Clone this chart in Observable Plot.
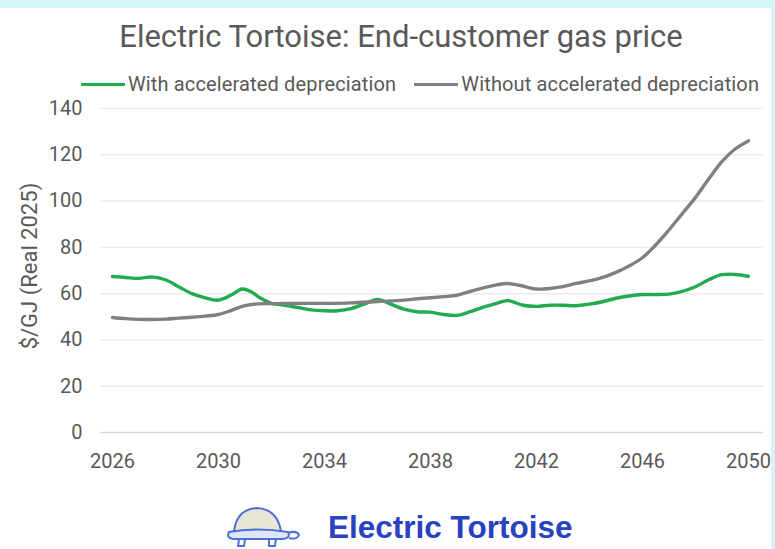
<!DOCTYPE html>
<html><head><meta charset="utf-8">
<script src="https://cdn.jsdelivr.net/npm/d3@7"></script>
<script src="https://cdn.jsdelivr.net/npm/@observablehq/plot@0.6"></script>
<style>
html,body{margin:0;padding:0;background:#fff;}
#wrap{position:relative;width:775px;height:549px;overflow:hidden;background:#fff;font-family:Roboto,sans-serif;color:#595959;}
#topband{position:absolute;left:0;top:0;width:775px;height:8px;background:#d5f4f7;}
#rightband{position:absolute;right:0;top:0;width:4px;height:549px;background:#d5f4f7;}
#title{position:absolute;left:0;width:802px;top:21px;text-align:center;font-size:31px;line-height:31px;color:#595959;white-space:nowrap;}
#legend{position:absolute;left:0;width:840px;top:74px;display:flex;justify-content:center;gap:18px;font-size:20px;line-height:20px;letter-spacing:0.15px;white-space:nowrap;}
.item{display:flex;align-items:center;gap:3px;}
.sw{width:44px;height:3px;}
#ylabel{position:absolute;left:29px;top:266px;transform:translate(-50%,-50%) rotate(-90deg);font-size:22px;white-space:nowrap;}
#chart{position:absolute;left:0;top:95px;}
#logo{position:absolute;left:225px;top:501px;}
#logotext{position:absolute;left:328px;top:510px;font-family:"Liberation Sans",Arial,sans-serif;font-weight:bold;font-size:31.5px;line-height:34px;color:#2842c0;white-space:nowrap;}
</style></head><body>
<div id="wrap">
  <div id="topband"></div><div id="rightband"></div>
  <div id="title"></div>
  <div id="legend"></div>
  <div id="ylabel"></div>
  <div id="chart"></div>
  <svg id="logo" width="80" height="49" viewBox="0 0 80 49">
    <path d="M9 30 Q12 8 32 7 Q52 8 56 30 Z" fill="#e9e6d6" stroke="#4d6fd6" stroke-width="2"/>
    <path d="M4 31 Q32 26 63 31 Q66 37 58 38 L8 38 Q1 37 4 31 Z" fill="#dfe6fb" stroke="#4d6fd6" stroke-width="2"/>
    <path d="M63 32 Q72 29 74 34 Q72 39 64 37" fill="none" stroke="#4d6fd6" stroke-width="2"/>
    <path d="M14 38 L13 45 L19 45 L20 38" fill="none" stroke="#4d6fd6" stroke-width="2"/>
    <path d="M44 38 L44 45 L50 45 L51 38" fill="none" stroke="#4d6fd6" stroke-width="2"/>
  </svg>
  <div id="logotext">Electric Tortoise</div>
</div>
<script>
const titleText = "Electric Tortoise: End-customer gas price";
const yLabelText = "$/GJ (Real 2025)";
const seriesNames = ["With accelerated depreciation", "Without accelerated depreciation"];
const seriesColors = ["#22ab4f", "#808080"];

const withYears = [2026,2026.5,2027,2027.5,2028,2028.5,2029,2029.5,2030,2030.5,2030.9,2031.2,2031.6,2032,2032.5,2033,2033.5,2034,2034.5,2035,2035.5,2036,2036.5,2037,2037.5,2038,2038.5,2039,2039.5,2040,2040.5,2040.9,2041.5,2042,2042.5,2043,2043.5,2044,2044.5,2045,2045.5,2046,2046.5,2047,2047.5,2048,2048.5,2049,2049.5,2050];
const withValues = [67.4,67.0,66.6,67.2,66.0,63.0,60.0,58.2,57.2,59.5,62.0,61.0,58.0,55.8,55.0,54.0,53.0,52.6,52.6,53.5,55.5,57.5,55.5,53.3,52.2,52.0,51.0,50.6,52.2,54.2,55.8,57.0,55.0,54.5,55.0,55.0,54.8,55.5,56.5,58.0,59.0,59.6,59.6,59.8,61.0,63.0,66.0,68.2,68.3,67.5];

const withoutYears = [2026,2026.5,2027,2027.5,2028,2028.5,2029,2029.5,2030,2030.5,2031,2031.5,2032,2033,2034,2035,2036,2037,2037.5,2038,2038.5,2039,2039.5,2040,2040.5,2040.9,2041.4,2042,2042.5,2043,2043.5,2044,2044.5,2045,2045.5,2046,2046.5,2047,2047.5,2048,2048.5,2049,2049.5,2050];
const withoutValues = [49.7,49.2,48.9,48.8,49.0,49.4,49.8,50.3,51.0,52.8,54.8,55.6,55.7,55.8,55.8,56.0,56.6,57.2,57.8,58.2,58.7,59.3,61.0,62.5,63.8,64.4,63.5,62.0,62.2,63.0,64.4,65.5,67.0,69.2,72.0,75.5,81.0,87.5,94.5,101.5,109.5,117.0,122.5,126.0];

const xTicks = [2026,2030,2034,2038,2042,2046,2050];
const yTicks = [0,20,40,60,80,100,120,140];

document.getElementById("title").textContent = titleText;
document.getElementById("ylabel").textContent = yLabelText;
const legend = document.getElementById("legend");
seriesNames.forEach((n,i)=>{
  const it = document.createElement("div"); it.className="item";
  const sw = document.createElement("div"); sw.className="sw"; sw.style.background=seriesColors[i];
  const tx = document.createElement("span"); tx.textContent=n;
  it.appendChild(sw); it.appendChild(tx); legend.appendChild(it);
});

const data = [
  ...withYears.map((y,i)=>({year:y, value:withValues[i], series:seriesNames[0]})),
  ...withoutYears.map((y,i)=>({year:y, value:withoutValues[i], series:seriesNames[1]}))
];

const plot = Plot.plot({
  width: 775,
  height: 385,
  marginTop: 13,
  marginBottom: 48,
  marginLeft: 100,
  marginRight: 12,
  style: {fontFamily: "Roboto, sans-serif", background: "transparent"},
  x: {domain: [2025.55, 2050.57], ticks: xTicks, tickFormat: d=>String(d)},
  y: {domain: [0, 140], ticks: yTicks},
  color: {domain: seriesNames, range: seriesColors},
  marks: [
    Plot.ruleY(yTicks.filter(d=>d>0), {stroke:"#ebebeb", strokeWidth:1.5}),
    Plot.ruleY([0], {stroke:"#d9d9d9", strokeWidth:1.5}),
    Plot.axisX({ticks: xTicks, tickSize: 0, tickPadding: 21, fontSize: 20, color: "#595959", label: null, tickFormat: d=>String(d)}),
    Plot.axisY({ticks: yTicks, tickSize: 0, tickPadding: 18, fontSize: 20, color: "#595959", label: null}),
    Plot.line(data, {x:"year", y:"value", stroke:"series", z:"series", strokeWidth:3.4, curve:"catmull-rom"})
  ]
});
document.getElementById("chart").appendChild(plot);
</script>
</body></html>
